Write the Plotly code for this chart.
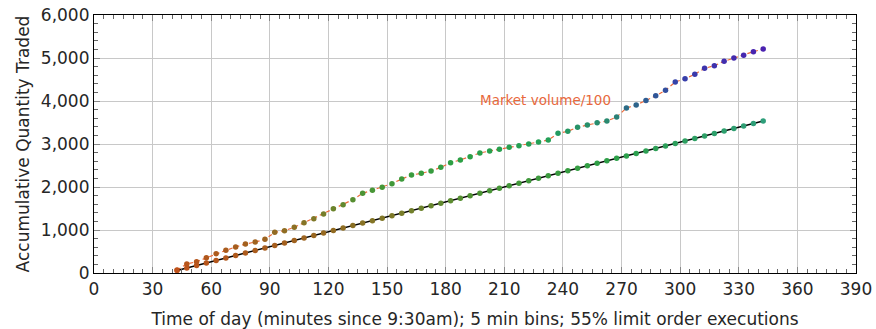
import plotly.graph_objects as go

# 5-minute bins (minutes since 9:30am)
times = [42.5, 47.5, 52.5, 57.5, 62.5, 67.5, 72.5, 77.5, 82.5, 87.5,
         92.5, 97.5, 102.5, 107.5, 112.5, 117.5, 122.5, 127.5, 132.5, 137.5,
         142.5, 147.5, 152.5, 157.5, 162.5, 167.5, 172.5, 177.5, 182.5, 187.5,
         192.5, 197.5, 202.5, 207.5, 212.5, 217.5, 222.5, 227.5, 232.5, 237.5,
         242.5, 247.5, 252.5, 257.5, 262.5, 267.5, 272.5, 277.5, 282.5, 287.5,
         292.5, 297.5, 302.5, 307.5, 312.5, 317.5, 322.5, 327.5, 332.5, 337.5,
         342.5]

market_volume = [70, 209, 263, 356, 449, 527, 605, 674, 721, 783,
                 946, 984, 1062, 1170, 1263, 1372, 1496, 1589, 1705, 1853,
                 1923, 1993, 2078, 2186, 2279, 2318, 2372, 2457, 2566, 2628,
                 2705, 2791, 2837, 2876, 2923, 2961, 3000, 3047, 3093, 3248,
                 3295, 3388, 3442, 3496, 3535, 3628, 3837, 3907, 4012, 4120,
                 4249, 4442, 4519, 4621, 4760, 4821, 4923, 5000, 5063, 5147,
                 5209]

order_qty = [60, 118, 176, 234, 292, 350, 407, 465, 523, 581,
             639, 697, 755, 813, 871, 929, 986, 1044, 1102, 1160,
             1218, 1276, 1334, 1392, 1450, 1508, 1565, 1623, 1681, 1739,
             1797, 1855, 1913, 1971, 2029, 2087, 2144, 2202, 2260, 2318,
             2376, 2434, 2492, 2550, 2608, 2666, 2723, 2781, 2839, 2897,
             2955, 3013, 3071, 3129, 3187, 3245, 3302, 3360, 3418, 3476,
             3534]

x_ticks = [0, 30, 60, 90, 120, 150, 180, 210, 240, 270, 300, 330, 360, 390]
y_ticks = [0, 1000, 2000, 3000, 4000, 5000, 6000]

cscale_upper = [
    [0.0, "#c0501a"],
    [0.13, "#a3601e"],
    [0.25, "#7d7a28"],
    [0.35, "#4c9434"],
    [0.5, "#2ca044"],
    [0.6, "#22a058"],
    [0.68, "#2a8a70"],
    [0.76, "#2d5f8f"],
    [0.86, "#3640aa"],
    [1.0, "#4a22b0"],
]

cscale_lower = [
    [0.0, "#c0501a"],
    [0.2, "#a3601e"],
    [0.38, "#7d7a28"],
    [0.52, "#4c9434"],
    [0.75, "#2ca048"],
    [1.0, "#2e9e7a"],
]

FONT = "DejaVu Sans"

fig = go.Figure()

fig.add_trace(go.Scatter(
    x=times, y=market_volume, mode="lines+markers",
    line=dict(color="#ee6a3a", width=1.2, dash="4px,3px"),
    marker=dict(size=5.5, color=market_volume, colorscale=cscale_upper, cmin=0, cmax=5209,
                line=dict(width=0)),
    showlegend=False,
))

fig.add_trace(go.Scatter(
    x=times, y=order_qty, mode="lines+markers",
    line=dict(color="black", width=1.5),
    marker=dict(size=5.5, color=order_qty, colorscale=cscale_lower, cmin=0, cmax=3534,
                line=dict(width=0)),
    showlegend=False,
))

fig.add_annotation(
    x=196.5, y=4020, text="Market volume/100", showarrow=False,
    xanchor="left", yanchor="middle",
    font=dict(family=FONT, size=13.5, color="#e8693c"),
)

fig.update_layout(
    width=876, height=329,
    margin=dict(l=94, r=20, t=15, b=56),
    plot_bgcolor="white", paper_bgcolor="white",
    font=dict(family=FONT, size=17, color="#262626"),
)

fig.update_xaxes(
    range=[0, 390], tickvals=x_ticks, ticktext=[str(v) for v in x_ticks],
    automargin=False,
    showgrid=True, gridcolor="#c8c8c8", gridwidth=1.2,
    showline=True, linecolor="black", linewidth=1.2, mirror="allticks",
    ticks="inside", ticklen=6, tickcolor="#888",
    minor=dict(dtick=5, tick0=0, ticks="inside", ticklen=4, tickcolor="#666", showgrid=False),
    zeroline=False,
    title=dict(text="Time of day (minutes since 9:30am); 5 min bins; 55% limit order executions",
               font=dict(size=17), standoff=15),
    tickfont=dict(size=17),
)

fig.update_yaxes(
    range=[0, 6000], tickvals=y_ticks, ticktext=[f"{v:,}" for v in y_ticks],
    automargin=False,
    showgrid=True, gridcolor="#c8c8c8", gridwidth=1.2,
    showline=True, linecolor="black", linewidth=1.2, mirror="allticks",
    ticks="inside", ticklen=6, tickcolor="#888",
    minor=dict(dtick=200, tick0=0, ticks="inside", ticklen=4, tickcolor="#666", showgrid=False),
    zeroline=False,
    title=dict(text="Accumulative Quantity Traded", font=dict(size=17), standoff=6),
    tickfont=dict(size=17),
)

fig.write_html("out.html")
